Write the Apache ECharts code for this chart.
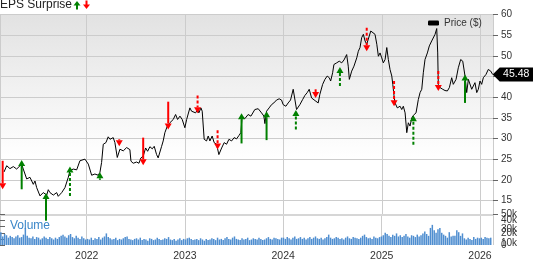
<!DOCTYPE html>
<html><head><meta charset="utf-8">
<script src="https://cdn.jsdelivr.net/npm/echarts@6/dist/echarts.min.js"></script>
<style>html,body{margin:0;padding:0;background:#fff}#c{width:533px;height:262px}</style>
</head><body><div id="c"></div>
<script>
// Price series: time as decimal year, value in $
const priceT = [2021.166,2021.193,2021.226,2021.260,2021.294,2021.311,2021.345,2021.361,2021.396,2021.429,2021.463,2021.480,2021.497,2021.513,2021.531,2021.564,2021.599,2021.615,2021.632,2021.666,2021.700,2021.716,2021.751,2021.784,2021.818,2021.835,2021.868,2021.903,2021.936,2021.987,2022.021,2022.055,2022.088,2022.122,2022.139,2022.156,2022.173,2022.200,2022.223,2022.241,2022.258,2022.274,2022.291,2022.315,2022.342,2022.376,2022.410,2022.443,2022.454,2022.477,2022.511,2022.535,2022.555,2022.578,2022.603,2022.623,2022.646,2022.670,2022.690,2022.714,2022.730,2022.748,2022.765,2022.781,2022.798,2022.826,2022.849,2022.883,2022.907,2022.927,2022.951,2022.974,2023.001,2023.019,2023.052,2023.069,2023.085,2023.110,2023.130,2023.143,2023.164,2023.177,2023.197,2023.221,2023.238,2023.255,2023.278,2023.298,2023.323,2023.346,2023.374,2023.400,2023.424,2023.448,2023.475,2023.501,2023.526,2023.549,2023.569,2023.582,2023.610,2023.643,2023.671,2023.688,2023.711,2023.745,2023.779,2023.803,2023.813,2023.830,2023.856,2023.881,2023.904,2023.931,2023.958,2023.982,2023.998,2024.026,2024.049,2024.073,2024.100,2024.117,2024.134,2024.150,2024.168,2024.195,2024.218,2024.242,2024.262,2024.286,2024.303,2024.330,2024.353,2024.370,2024.398,2024.421,2024.444,2024.465,2024.479,2024.499,2024.512,2024.540,2024.566,2024.591,2024.614,2024.641,2024.657,2024.668,2024.692,2024.715,2024.743,2024.759,2024.776,2024.793,2024.810,2024.827,2024.844,2024.860,2024.885,2024.905,2024.928,2024.946,2024.962,2024.979,2024.996,2025.012,2025.030,2025.047,2025.063,2025.080,2025.098,2025.108,2025.121,2025.131,2025.154,2025.182,2025.199,2025.215,2025.233,2025.250,2025.266,2025.283,2025.301,2025.317,2025.344,2025.367,2025.385,2025.402,2025.418,2025.435,2025.459,2025.479,2025.503,2025.520,2025.537,2025.554,2025.564,2025.570,2025.588,2025.615,2025.638,2025.662,2025.682,2025.706,2025.722,2025.750,2025.773,2025.797,2025.818,2025.841,2025.858,2025.875,2025.892,2025.909,2025.925,2025.942,2025.960,2025.976,2025.993,2026.010,2026.027,2026.054,2026.077,2026.102,2026.122];
const priceV = [21.9,23.4,22.7,23.2,22.6,23.0,23.8,22.6,20.2,20.6,18.9,19.7,18.1,17.7,16.1,16.9,16.3,17.6,16.9,16.3,16.9,16.0,16.9,18.1,20.6,22.2,22.6,22.4,24.6,25.0,23.8,21.1,21.4,21.1,21.8,24.2,28.6,29.0,30.4,29.8,29.4,30.2,29.0,25.4,27.4,27.0,27.8,27.3,24.5,24.0,24.3,24.0,25.3,25.7,27.7,26.9,28.0,27.5,28.1,26.1,25.3,25.6,28.1,29.4,31.4,33.2,33.8,34.6,35.8,34.6,35.4,34.6,32.6,34.6,37.4,36.6,36.9,36.2,37.0,36.2,37.4,36.6,29.8,29.4,30.6,29.4,30.6,29.0,28.6,26.1,27.7,29.0,28.6,29.8,29.4,30.2,29.9,30.7,31.4,35.4,34.8,35.8,35.4,35.2,37.0,37.2,36.2,35.4,33.6,36.6,37.4,38.2,38.6,39.3,39.6,39.3,38.2,37.8,38.6,39.3,41.9,42.3,37.0,37.0,38.2,39.4,40.4,41.1,41.9,39.8,40.1,39.0,38.6,40.7,43.1,44.3,45.1,44.7,43.9,45.9,47.9,48.3,48.7,48.3,49.0,50.3,47.5,44.3,46.3,47.5,49.5,51.1,52.0,54.4,55.2,53.6,52.8,53.2,56.0,56.3,55.2,52.8,49.9,50.7,49.5,48.3,49.1,52.0,49.1,46.7,45.1,43.1,40.3,38.6,37.4,37.8,37.0,37.8,36.2,31.4,33.8,33.0,35.0,35.6,36.2,39.4,41.1,41.9,45.9,49.1,50.7,52.4,53.6,53.2,55.2,56.6,50.7,43.1,42.3,41.9,41.6,41.5,42.3,44.7,43.1,44.3,47.1,49.1,48.7,45.1,41.1,44.3,43.9,41.9,42.3,43.5,41.1,41.9,43.9,43.1,44.7,45.5,46.7,46.3,45.48];

// EPS surprise arrows: time, tail value, head value, beat(1)/miss(0), dotted(1)/solid(0)
const epsT      = [2021.152,2021.345,2021.592,2021.835,2022.139,2022.335,2022.578,2022.832,2023.130,2023.333,2023.576,2023.830,2024.127,2024.327,2024.573,2024.844,2025.121,2025.317,2025.570,2025.841];
const epsTail   = [24.6,17.7,10.1,16.1,20.0,29.8,30.2,38.9,40.4,32.0,28.8,29.6,32.2,41.9,42.7,56.8,43.9,28.5,46.3,38.6];
const epsHead   = [17.7,24.8,16.8,23.2,21.8,28.1,23.5,32.2,36.1,27.3,36.1,36.6,36.9,39.8,47.3,51.1,37.8,35.6,41.5,45.5];
const epsBeat   = [0,1,1,1,1,0,0,0,0,0,1,1,1,0,1,0,0,1,0,1];
const epsDotted = [0,0,0,1,0,0,0,0,1,1,0,0,1,0,1,1,1,1,1,0];

// Weekly volume (thousands), starting the week of 2021-02-16
const volStart = Date.UTC(2021, 1, 16);
const volumeK = [
 21,14,18,16,12,15,13,11,14,16,12,13,17,
 28,
 15,12,11,14,10,13,12,9,11,14,12,10,13,11,9,12,10,
 13,15,17,14,12,16,18,13,11,15,12,10,14,11,9,
 10,9,12,8,11,10,13,9,12,14,19,13,
 11,9,10,12,8,10,9,11,13,14,10,9,8,10,11,9,12,8,10,9,7,11,10,8,9,12,10,8,9,11,10,13,9,8,10,7,9,11,8,10,
 9,11,12,10,8,9,10,8,11,9,7,10,8,9,11,10,8,12,9,10,8,11,13,10,9,12,14,10,9,8,11,9,10,12,8,9,11,10,9,12,10,8,9,11,13,10,9,12,11,10,9,12,
 12,10,13,11,9,12,14,10,11,13,10,12,9,11,13,10,12,14,11,10,12,9,11,13,17,12,10,11,13,12,10,11,9,12,14,11,10,13,12,11,10,12,15,17,13,11,12,10,14,12,11,13,
 14,16,20,18,15,13,17,15,19,14,16,13,15,18,14,12,16,15,13,17,14,16,19,22,18,15,28,33,24,20,26,
 28,20,17,15,12,21,14,15,15,24,21,15,19,11,9,12,10,8,13,10,12,
 11,12,10,13,12,11,12
];

const WEEK = 7 * 864e5;
function toTs(t){ const y = Math.floor(t); const a = Date.UTC(y,0,1), b = Date.UTC(y+1,0,1); return a + (t - y) * (b - a); }
const xMin = toTs(2021.125), xMax = toTs(2026.125);
const n = Math.min(priceT.length, priceV.length);
const price = []; for (let i = 0; i < n; i++) price.push([toTs(priceT[i]), priceV[i]]);
const vol = volumeK.map((v, i) => [volStart + i * WEEK, v]);
const eps = epsT.map((t, i) => [toTs(t), epsTail[i], epsHead[i], epsBeat[i], epsDotted[i]]);
const last = price[price.length - 1];

const FONT = '"Liberation Sans", Arial, sans-serif';
const GREEN = '#008000', RED = '#ff0000';
const gridLine = { color: '#cccccc', width: 1 };
const yearFmt = v => { const d = new Date(v); return (d.getUTCMonth() === 0 && d.getUTCDate() === 1) ? String(d.getUTCFullYear()) : ''; };
const volLabel = v => (v === 0 ? '0' : v + 'k');

// volume panel: 0 at y=251, 50k at y=214.5 (7.3px per 10k)
const VOL_TOP = 214.5, VOL_H = 36.5;

const chart = echarts.init(document.getElementById('c'), null, { renderer: 'canvas' });
chart.setOption({
  animation: false,
  useUTC: true,
  textStyle: { fontFamily: FONT },
  title: [
    { text: 'EPS Surprise', left: 0, top: -1, padding: 0, textStyle: { fontSize: 12, fontWeight: 'normal', color: '#222', fontFamily: FONT } },
    { text: 'Volume', left: 10, top: 220, padding: 0, textStyle: { fontSize: 12, fontWeight: 'normal', color: '#3a86c8', fontFamily: FONT } }
  ],
  graphic: [
    { type: 'polygon', shape: { points: [[77, 1], [73.5, 5.5], [80.5, 5.5]] }, style: { fill: GREEN } },
    { type: 'rect', shape: { x: 76, y: 5, width: 2, height: 4.5 }, style: { fill: GREEN } },
    { type: 'rect', shape: { x: 85.5, y: 0.5, width: 2, height: 4.5 }, style: { fill: RED } },
    { type: 'polygon', shape: { points: [[83, 4.5], [90, 4.5], [86.5, 9]] }, style: { fill: RED } }
  ],
  legend: {
    data: ['Price ($)'], left: 428, top: 18, padding: 0, itemWidth: 11, itemHeight: 5, icon: 'roundRect',
    textStyle: { fontSize: 10, color: '#333', fontFamily: FONT }
  },
  grid: [
    { left: 0, right: 40, top: 14.5, height: 200, show: true, borderWidth: 0,
      backgroundColor: { type: 'linear', x: 0, y: 0, x2: 0, y2: 1, colorStops: [
        { offset: 0, color: '#e2e2e2' }, { offset: 0.72, color: '#ffffff' }, { offset: 1, color: '#ffffff' } ] } },
    { left: 0, right: 40, top: VOL_TOP, height: VOL_H },
    // same scale as the volume panel, extended one step below 0 (for the odd labels)
    { left: 0, right: 40, top: VOL_TOP, height: VOL_H * 6 / 5 }
  ],
  xAxis: [
    { type: 'time', gridIndex: 0, min: xMin, max: xMax, splitNumber: 5, minInterval: 365 * 864e5,
      axisLine: { show: false }, axisTick: { show: false }, axisLabel: { show: false },
      splitLine: { show: true, lineStyle: gridLine } },
    { type: 'time', gridIndex: 1, min: xMin, max: xMax, splitNumber: 5, minInterval: 365 * 864e5,
      axisLine: { show: false }, axisTick: { show: false },
      axisLabel: { show: true, formatter: yearFmt, fontSize: 10.5, color: '#333', margin: 6, fontFamily: FONT },
      splitLine: { show: true, lineStyle: gridLine } },
    { type: 'value', gridIndex: 1, position: 'top', min: 0, max: 1,
      axisLine: { show: true, lineStyle: { color: '#d6d6d6', width: 2 } },
      axisTick: { show: false }, axisLabel: { show: false }, splitLine: { show: false } },
    { type: 'value', gridIndex: 2, show: false }
  ],
  yAxis: [
    { type: 'value', gridIndex: 0, position: 'right', min: 11.6, max: 60, splitNumber: 10, minInterval: 5, maxInterval: 5,
      axisLine: { show: true, lineStyle: { color: '#cccccc' } },
      axisTick: { show: true, length: 5, lineStyle: { color: '#666' } },
      axisLabel: { fontSize: 10, color: '#333', margin: 8, fontFamily: FONT, hideOverlap: false, showMaxLabel: true,
        formatter: v => (Math.abs(v % 5) < 1e-9 ? String(v) : '') },
      splitLine: { show: true, lineStyle: gridLine } },
    { type: 'value', gridIndex: 1, position: 'right', min: 0, max: 50, interval: 10,
      axisLine: { show: true, lineStyle: { color: '#cccccc' } },
      axisTick: { show: true, length: 5, lineStyle: { color: '#666' } },
      axisLabel: { fontSize: 10, color: '#333', margin: 8, fontFamily: FONT, hideOverlap: false, interval: 0,
        formatter: v => (v % 20 === 0 && v < 50 ? volLabel(v) : '') },
      splitLine: { show: false } },
    { type: 'value', gridIndex: 2, position: 'right', min: -10, max: 50, interval: 10,
      axisLine: { show: false }, axisTick: { show: false }, splitLine: { show: false },
      axisLabel: { fontSize: 10, color: '#333', margin: 8, fontFamily: FONT, hideOverlap: false, interval: 0, showMaxLabel: true,
        formatter: v => (v > 0 && (v / 10) % 2 === 1 ? volLabel(v) : '') } }
  ],
  series: [
    { name: 'Price ($)', type: 'line', xAxisIndex: 0, yAxisIndex: 0, data: price, showSymbol: false, z: 3,
      lineStyle: { color: '#000', width: 1 }, itemStyle: { color: '#000' },
      markPoint: {
        symbol: 'path://M0,7L7,0L41,0L41,14L7,14Z', symbolSize: [41, 14], symbolOffset: [20.5, 0], symbolKeepAspect: false,
        itemStyle: { color: '#000' },
        label: { show: true, position: 'inside', color: '#fff', fontSize: 10.5, offset: [3, 0], fontFamily: FONT, formatter: p => Number(p.value).toFixed(2) },
        data: [{ coord: last, value: last[1] }]
      } },
    { name: 'EPS', type: 'custom', xAxisIndex: 0, yAxisIndex: 0, data: eps, z: 4, clip: false,
      encode: { x: 0, y: [1, 2] },
      renderItem: (params, api) => {
        const x = api.value(0);
        const p1 = api.coord([x, api.value(1)]);
        const p2 = api.coord([x, api.value(2)]);
        const color = api.value(3) ? GREEN : RED;
        const dotted = api.value(4);
        const dir = p2[1] > p1[1] ? 1 : -1;
        const h = 6, w = 3.5;
        const baseY = p2[1] - dir * h;
        return { type: 'group', children: [
          { type: 'line', shape: { x1: p1[0], y1: p1[1], x2: p1[0], y2: baseY },
            style: { stroke: color, lineWidth: 2, lineDash: dotted ? [3, 2] : null } },
          { type: 'polygon', shape: { points: [[p2[0], p2[1]], [p2[0] - w, baseY], [p2[0] + w, baseY]] }, style: { fill: color } }
        ] };
      } },
    { name: 'Volume', type: 'bar', xAxisIndex: 1, yAxisIndex: 1, data: vol, barWidth: 1.5,
      itemStyle: { color: '#4f8ed0' } }
  ]
});
</script></body></html>
